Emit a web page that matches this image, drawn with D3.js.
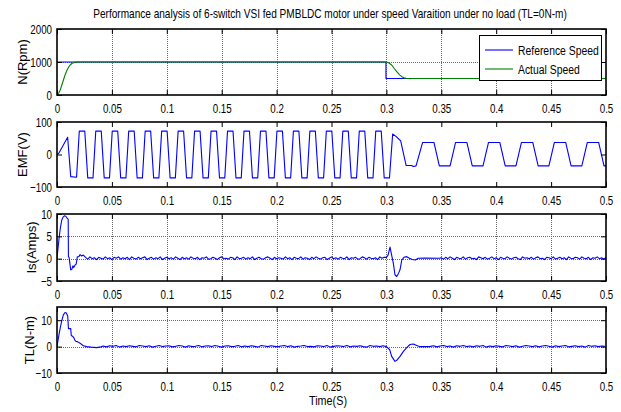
<!DOCTYPE html>
<html><head><meta charset="utf-8">
<script src="https://cdn.jsdelivr.net/npm/d3@7"></script>
<style>body{margin:0;background:#fff} svg{display:block} text{font-family:"Liberation Sans",Arial,sans-serif;fill:#000}</style>
</head><body><svg id="c" width="621" height="412"></svg>
<script>
// ---------- text / ticks ----------
const titleText = "Performance analysis of 6-switch VSI fed PMBLDC motor under speed Varaition under no load (TL=0N-m)";
const xTicks = [0,0.05,0.1,0.15,0.2,0.25,0.3,0.35,0.4,0.45,0.5];
const xTickLabels = ["0","0.05","0.1","0.15","0.2","0.25","0.3","0.35","0.4","0.45","0.5"];
const xLabel = "Time(S)";
const yLabels = ["N(Rpm)","EMF(V)","Is(Amps)","TL(N-m)"];
const speedTicks = [0,1000,2000];
const emfTicks = [-100,0,100];
const isTicks = [-5,0,5,10];
const tlTicks = [-10,0,10];
const speedDomain = [0,2000], emfDomain = [-100,100], isDomain = [-5,10], tlDomain = [-10,15];
const legendLabels = ["Reference Speed","Actual Speed"];

// ---------- speed (rpm) ----------
const speedRefT = [0, 0.2996, 0.2996, 0.5];
const speedRefV = [1000, 1000, 500, 500];
const speedActT = [0,0.0015,0.003,0.0045,0.006,0.0075,0.009,0.0105,0.012,0.0135,0.015,0.0175,0.02,0.3,0.302,0.3048,0.307,0.3094,0.312,0.314,0.316,0.3179,0.32,0.3215,0.323,0.5];
const speedActV = [0,50,160,310,470,620,740,840,910,955,980,995,1000,1000,975,910,810,706,610,555,520,505,498,494,500,500];

// ---------- back EMF (V), corner points ----------
const emfT = [0,0.0015,0.0097,0.0125,0.0178,
 0.0203,0.0253,0.0280,0.0328, 0.0353,0.0403,0.0430,0.0478, 0.0503,0.0553,0.0580,0.0628,
 0.0653,0.0703,0.0730,0.0778, 0.0803,0.0853,0.0880,0.0928, 0.0953,0.1003,0.1030,0.1078,
 0.1103,0.1153,0.1180,0.1228, 0.1253,0.1303,0.1330,0.1378, 0.1403,0.1453,0.1480,0.1528,
 0.1553,0.1603,0.1630,0.1678, 0.1703,0.1753,0.1780,0.1828, 0.1853,0.1903,0.1930,0.1978,
 0.2003,0.2053,0.2080,0.2128, 0.2153,0.2203,0.2230,0.2278, 0.2303,0.2353,0.2380,0.2428,
 0.2453,0.2503,0.2530,0.2578, 0.2603,0.2653,0.2680,0.2728, 0.2753,0.2803,0.2830,0.2878,
 0.2903,0.2953,0.2980,0.3028,
 0.3057,0.3090,0.3130,0.3180,0.3230,0.3245,0.3270,
 0.3330,0.3433,0.3482,0.3580, 0.3630,0.3733,0.3782,0.3880, 0.3930,0.4033,0.4082,0.4180,
 0.4230,0.4333,0.4382,0.4480, 0.4530,0.4633,0.4682,0.4780, 0.4830,0.4933,0.4982,0.5];
const emfV = [0,3,53,-68,-70,
 72,72,-72,-72, 72,72,-72,-72, 72,72,-72,-72,
 72,72,-72,-72, 72,72,-72,-72, 72,72,-72,-72,
 72,72,-72,-72, 72,72,-72,-72, 72,72,-72,-72,
 72,72,-72,-72, 72,72,-72,-72, 72,72,-72,-72,
 72,72,-72,-72, 72,72,-72,-72, 72,72,-72,-72,
 72,72,-72,-72, 72,72,-72,-72, 72,72,-72,-72,
 72,72,-72,-72,
 63,55,42,-34,-34,-37,-35,
 37,37,-35,-35, 37,37,-35,-35, 37,37,-35,-35,
 37,37,-35,-35, 37,37,-35,-35, 37,37,-35,-35];

// ---------- stator current Is (A) ----------
const isStartT = [0,0.001,0.002,0.003,0.0043,0.0055,0.0068,0.008,0.0094,0.0102,0.0104,0.011,0.0125,0.0135,0.0145,0.0152,0.0165,0.0175,0.0185,0.02,0.021,0.0225,0.024];
const isStartV = [0,2.5,4.8,6.8,8.6,9.3,9.6,9.5,9.0,8.8,0.4,0.3,-2.5,-2.4,-1.6,-2.0,-1.4,-1.2,0.4,0.5,0.9,0.6,0.8];
const isRippleA = [ // sampled every 2 ms from 0.026 s
 0.3,-0.1,0.4,0.0,0.2,-0.2,0.3,0.1,-0.1,0.4,
 0.0,0.2,-0.2,0.3,0.1,0.4,-0.1,0.2,0.0,0.3,
 -0.2,0.4,0.1,-0.1,0.3,0.0,0.2,0.4,-0.2,0.1,
 0.3,-0.1,0.2,0.0,0.4,-0.2,0.1,0.3,0.0,0.2,
 -0.1,0.4,0.1,-0.2,0.3,0.0,0.2,-0.1,0.4,0.1,
 0.0,0.3,-0.2,0.2,0.1,0.4,-0.1,0.0,0.3,0.1,
 -0.2,0.2,0.4,0.0,0.1,-0.1,0.3,0.2,-0.2,0.4,
 0.0,0.1,0.3,-0.1,0.2,0.0,0.4,-0.2,0.1,0.3,
 0.0,-0.1,0.2,0.4,0.1,-0.2,0.3,0.0,0.2,0.1,
 -0.1,0.4,0.0,0.2,-0.2,0.3,0.1,0.0,0.4,-0.1,
 0.2,0.1,-0.2,0.3,0.0,0.4,0.1,-0.1,0.2,0.3,
 -0.2,0.1,0.4,0.0,0.2,-0.1,0.3,0.1,0.0,0.4,
 -0.2,0.2,0.1,0.3,-0.1,0.0,0.4,0.2,-0.1,0.3,
 0.1,0.0,0.2,-0.2,0.4,0.1,0.3];
const isStepT = [0.3,0.3015,0.3033,0.305,0.3063,0.3078,0.3094,0.311,0.3124,0.314,0.316,0.3185,0.321,0.3235,0.3265,0.329,0.335,0.348];
const isStepV = [0.3,0.8,2.6,0.5,-1.0,-3.6,-4.0,-3.3,-2.5,-0.3,0.3,0.45,0.1,-0.2,-0.3,0.1,0.15,0.1];
const isRippleB = [ // sampled every 2 ms from 0.35 s
 0.2,-0.1,0.3,0.0,0.4,0.1,-0.2,0.3,0.1,0.0,
 0.4,-0.1,0.2,0.3,0.0,0.1,-0.2,0.4,0.2,0.0,
 0.3,-0.1,0.1,0.4,0.0,0.2,-0.2,0.3,0.1,0.0,
 0.4,0.1,-0.1,0.2,0.3,0.0,-0.2,0.4,0.1,0.2,
 0.0,0.3,-0.1,0.2,0.4,0.0,0.1,-0.2,0.3,0.2,
 0.0,0.4,-0.1,0.1,0.3,0.0,0.2,-0.2,0.4,0.1,
 0.0,0.3,0.2,-0.1,0.4,0.1,0.0,0.3,-0.2,0.2,
 0.1,0.4,0.0,0.2,-0.1,0.3];

// ---------- electromagnetic torque TL (N-m) ----------
const tlStartT = [0,0.001,0.002,0.003,0.0043,0.0058,0.0073,0.0085,0.0098,0.0104,0.0125,0.013,0.0145,0.0155,0.016,0.0172,0.019,0.021,0.0225,0.024,0.027,0.031,0.036,0.04];
const tlStartV = [0,2.5,5.0,7.2,9.7,12.0,12.9,12.7,11.5,6.8,6.8,4.2,3.8,3.3,2.6,2.0,1.8,1.3,0.8,0.3,0.0,-0.2,-0.4,-0.1];
const tlRippleA = [ // sampled every 3 ms from 0.042 s
 0.2,-0.1,0.3,0.1,0.4,-0.2,0.2,0.0,0.3,0.1,
 -0.1,0.4,0.2,0.0,0.3,-0.2,0.1,0.4,0.0,0.2,
 0.3,-0.1,0.1,0.4,0.2,-0.2,0.3,0.0,0.1,0.4,
 -0.1,0.2,0.3,0.0,0.4,0.1,-0.2,0.2,0.3,0.0,
 0.1,0.4,-0.1,0.2,0.0,0.3,0.1,-0.2,0.4,0.2,
 0.0,0.3,0.1,-0.1,0.2,0.4,0.0,0.3,-0.2,0.1,
 0.2,0.4,0.0,0.1,-0.1,0.3,0.2,0.0,0.4,-0.2,
 0.1,0.3,0.2,0.0,0.4,-0.1,0.2,0.1,0.3,0.0,
 -0.2,0.4,0.1,0.2,0.0,0.3];
const tlStepT = [0.3,0.303,0.3048,0.3078,0.3094,0.3124,0.3155,0.3185,0.3215,0.3245,0.3276,0.33,0.338];
const tlStepV = [0.0,-1.2,-3.7,-5.6,-5.2,-3.7,-1.8,-0.4,0.8,1.0,0.4,0.0,0.0];
const tlRippleB = [ // sampled every 3 ms from 0.34 s
 0.1,0.3,-0.1,0.2,0.4,0.0,0.2,-0.2,0.3,0.1,
 0.4,0.0,0.2,-0.1,0.3,0.1,0.4,-0.2,0.2,0.0,
 0.3,0.1,-0.1,0.4,0.2,0.0,0.3,-0.2,0.1,0.4,
 0.2,0.0,0.3,-0.1,0.2,0.4,0.1,-0.2,0.3,0.0,
 0.2,0.4,-0.1,0.1,0.3,0.0,0.2,-0.2,0.4,0.1,
 0.3,0.0,0.2,0.1];

// ---------- assemble ----------
const zip = (T, V) => T.map((t, i) => [t, V[i]]);
const sampled = (t0, dt, V) => V.map((v, i) => [t0 + i * dt, v]);
const isSeries = [].concat(zip(isStartT, isStartV), sampled(0.026, 0.002, isRippleA), zip(isStepT, isStepV), sampled(0.35, 0.002, isRippleB));
const tlSeries = [].concat(zip(tlStartT, tlStartV), sampled(0.042, 0.003, tlRippleA), zip(tlStepT, tlStepV), sampled(0.34, 0.003, tlRippleB));

const BLUE = "#0000ff", GREEN = "#008000";
const panels = [
  {top:29, bottom:95, domain:speedDomain, ticks:speedTicks, grid:true, label:yLabels[0], lx:22,
   series:[{d:zip(speedRefT,speedRefV), c:BLUE},{d:zip(speedActT,speedActV), c:GREEN}]},
  {top:122, bottom:187, domain:emfDomain, ticks:emfTicks, grid:false, label:yLabels[1], lx:22,
   series:[{d:zip(emfT,emfV), c:BLUE}]},
  {top:214, bottom:281, domain:isDomain, ticks:isTicks, grid:true, label:yLabels[2], lx:31,
   series:[{d:isSeries, c:BLUE}]},
  {top:307, bottom:373, domain:tlDomain, ticks:tlTicks, grid:true, label:yLabels[3], lx:29,
   series:[{d:tlSeries, c:BLUE}]}
];

const svg = d3.select("#c");
const L = 57, R = 606;
const x = d3.scaleLinear().domain([0, 0.5]).range([L, R]);
const fmtX = d => xTickLabels[xTicks.indexOf(d)];

function condense(sel, f) {
  sel.each(function () {
    const w = this.getComputedTextLength();
    d3.select(this).attr("textLength", w * f).attr("lengthAdjust", "spacingAndGlyphs");
  });
}

svg.append("rect").attr("width", 621).attr("height", 412).attr("fill", "#fff");

panels.forEach((p, k) => {
  const y = d3.scaleLinear().domain(p.domain).range([p.bottom, p.top]);
  const g = svg.append("g");
  const cid = "clip" + k;
  svg.append("clipPath").attr("id", cid).append("rect")
    .attr("x", L).attr("y", p.top).attr("width", R - L).attr("height", p.bottom - p.top);

  if (p.grid) {
    const gg = g.append("g").attr("stroke", "#6a6a6a").attr("stroke-dasharray", "1,1").attr("stroke-width", 1);
    xTicks.slice(1, -1).forEach(t => gg.append("line")
      .attr("x1", Math.round(x(t)) + 0.5).attr("x2", Math.round(x(t)) + 0.5).attr("y1", p.top).attr("y2", p.bottom));
    p.ticks.filter(t => t > p.domain[0] && t < p.domain[1]).forEach(t => gg.append("line")
      .attr("y1", Math.round(y(t)) + 0.5).attr("y2", Math.round(y(t)) + 0.5).attr("x1", L).attr("x2", R));
  }

  const line = d3.line().x(d => x(d[0])).y(d => y(d[1]));
  const dg = g.append("g").attr("clip-path", `url(#${cid})`);
  p.series.forEach(s => dg.append("path").attr("d", line(s.d)).attr("fill", "none")
    .attr("stroke", s.c).attr("stroke-width", 1.1).attr("stroke-linejoin", "round"));

  // axes (inward ticks, MATLAB style)
  const ax = g.append("g").attr("transform", `translate(0,${p.bottom})`)
    .call(d3.axisBottom(x).tickValues(xTicks).tickFormat(fmtX).tickSize(-5).tickPadding(9));
  g.append("g").attr("transform", `translate(0,${p.top})`)
    .call(d3.axisTop(x).tickValues(xTicks).tickFormat("").tickSize(-5));
  const ay = g.append("g").attr("transform", `translate(${L},0)`)
    .call(d3.axisLeft(y).tickValues(p.ticks).tickFormat(d3.format("d")).tickSize(-5).tickPadding(5));
  g.append("g").attr("transform", `translate(${R},0)`)
    .call(d3.axisRight(y).tickValues(p.ticks).tickFormat("").tickSize(-5));
  g.selectAll(".domain").remove();
  g.selectAll(".tick line").attr("stroke", "#000").attr("stroke-width", 1);
  g.selectAll(".tick text").attr("font-size", 13).attr("font-family", '"Liberation Sans",Arial,sans-serif');
  condense(ax.selectAll("text"), 0.75);
  condense(ay.selectAll("text"), 0.75);

  g.append("rect").attr("x", L).attr("y", p.top).attr("width", R - L).attr("height", p.bottom - p.top)
    .attr("fill", "none").attr("stroke", "#000").attr("stroke-width", 1.6);

  g.append("text").attr("transform", `translate(${p.lx},${(p.top + p.bottom) / 2}) rotate(-90)`)
    .attr("text-anchor", "middle").attr("dy", "0.35em").attr("font-size", 13).text(p.label);
});

// title (horizontally condensed like the reference)
const title = svg.append("text").attr("text-anchor", "middle").attr("font-size", 12.5).text(titleText);
const tw = title.node().getComputedTextLength();
title.attr("transform", `translate(330,18) scale(${474 / tw},1)`);

// x label
const xl = svg.append("text").attr("text-anchor", "middle").attr("font-size", 13).text(xLabel);
const xw = xl.node().getComputedTextLength();
xl.attr("transform", `translate(328,405) scale(${38 / xw},1)`);

// legend
const lg = svg.append("g");
lg.append("rect").attr("x", 479.5).attr("y", 35.5).attr("width", 122).attr("height", 45)
  .attr("fill", "#fff").attr("stroke", "#000").attr("stroke-width", 1);
[BLUE, GREEN].forEach((c, i) => {
  const yy = 50 + i * 19;
  lg.append("line").attr("x1", 485).attr("x2", 513).attr("y1", yy).attr("y2", yy).attr("stroke", c).attr("stroke-width", 1.1);
  const t = lg.append("text").attr("x", 518).attr("y", yy + 4.5).attr("font-size", 12.5).text(legendLabels[i]);
  condense(t, 0.83);
});
</script></body></html>
